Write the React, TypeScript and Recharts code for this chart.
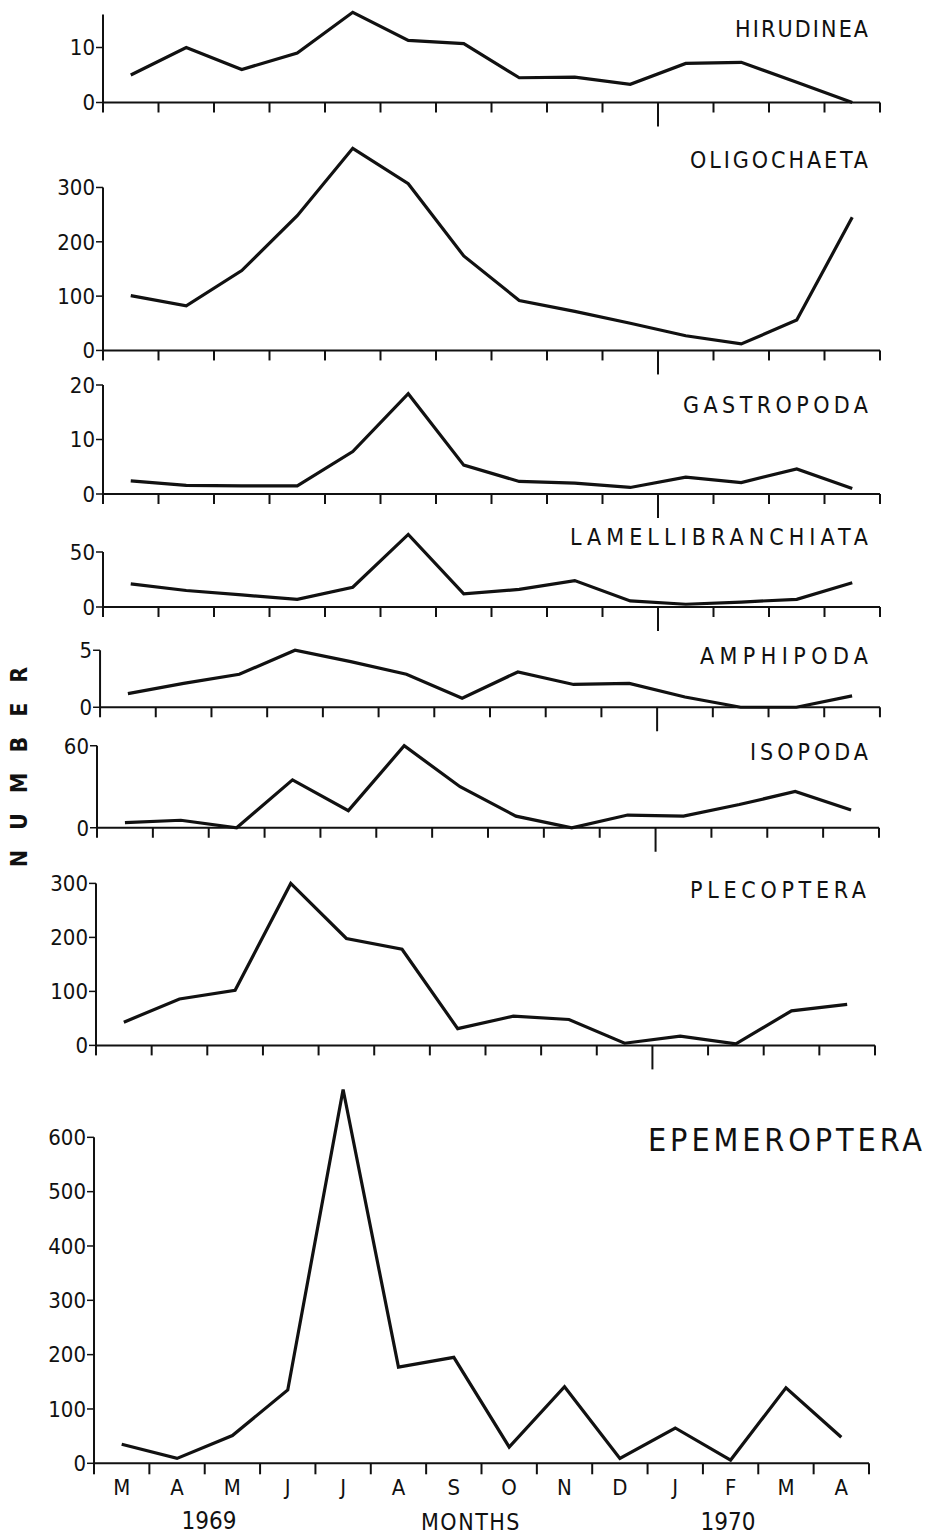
import React from 'react';
import { LineChart, Line, XAxis, YAxis, ReferenceLine } from 'recharts';

const FONT = '"Liberation Sans Narrow", "DejaVu Sans Condensed", "DejaVu Sans", sans-serif';
const INK = '#111';

// Categories
const MONTHS = ['M', 'A', 'M', 'J', 'J', 'A', 'S', 'O', 'N', 'D', 'J', 'F', 'M', 'A'];
const YEAR_LABELS = ['1969', 'MONTHS', '1970'];

// Series values (numbers per month, Mar 1969 – Apr 1970)
const HIRUDINEA = [5, 10, 6, 9, 16.4, 11.3, 10.7, 4.5, 4.6, 3.3, 7.1, 7.3, 3.7, 0];
const OLIGOCHAETA = [101, 82, 147, 248, 372, 307, 174, 92, 72, 50, 27, 12, 56, 245];
const GASTROPODA = [2.4, 1.6, 1.5, 1.5, 7.8, 18.4, 5.3, 2.3, 2.0, 1.2, 3.1, 2.1, 4.6, 1.0];
const LAMELLIBRANCHIATA = [21, 15, 11, 7, 18, 66, 12, 16, 24, 5.5, 2.5, 4.5, 7, 22];
const AMPHIPODA = [1.2, 2.1, 2.9, 5.0, 4.0, 2.9, 0.8, 3.1, 2.0, 2.1, 0.9, 0, 0, 1.0];
const ISOPODA = [3.7, 5.5, 0, 35, 12.5, 60, 30, 8.5, 0, 9.3, 8.5, 17, 26.5, 13];
const PLECOPTERA = [43, 86, 102, 300, 198, 178, 31, 54, 48, 4, 17, 3, 64, 76];
const EPEMEROPTERA = [35, 9, 51, 135, 688, 177, 195, 30, 141, 9, 65, 6, 139, 48];

// Tick labels
const TICKS_HIRUDINEA = [0, 10];
const TICKS_OLIGOCHAETA = [0, 100, 200, 300];
const TICKS_GASTROPODA = [0, 10, 20];
const TICKS_LAMELLIBRANCHIATA = [0, 50];
const TICKS_AMPHIPODA = [0, 5];
const TICKS_ISOPODA = [0, 60];
const TICKS_PLECOPTERA = [0, 100, 200, 300];
const TICKS_EPEMEROPTERA = [0, 100, 200, 300, 400, 500, 600];

// Layout of each panel (pixels / domain tops), kept apart from the data
const PANELS = [
  { title: 'HIRUDINEA', data: HIRUDINEA, ticks: TICKS_HIRUDINEA, axisTop: 16, domTop: 17, zeroY: 102, scale: 5.5, left: 103, right: 880, tx1: 735, tx2: 868, ty: 37, tsize: 23 },
  { title: 'OLIGOCHAETA', data: OLIGOCHAETA, ticks: TICKS_OLIGOCHAETA, axisTop: 300, domTop: 380, zeroY: 350, scale: 0.5433, left: 103, right: 880, tx1: 690, tx2: 868, ty: 168, tsize: 23 },
  { title: 'GASTROPODA', data: GASTROPODA, ticks: TICKS_GASTROPODA, axisTop: 20, domTop: 20, zeroY: 494, scale: 5.45, left: 103, right: 880, tx1: 683, tx2: 868, ty: 413, tsize: 23 },
  { title: 'LAMELLIBRANCHIATA', data: LAMELLIBRANCHIATA, ticks: TICKS_LAMELLIBRANCHIATA, axisTop: 50, domTop: 70, zeroY: 607, scale: 1.1, left: 103, right: 880, tx1: 570, tx2: 868, ty: 545, tsize: 23 },
  { title: 'AMPHIPODA', data: AMPHIPODA, ticks: TICKS_AMPHIPODA, axisTop: 5, domTop: 5.2, zeroY: 707, scale: 11.4, left: 100, right: 880, tx1: 700, tx2: 868, ty: 664, tsize: 23 },
  { title: 'ISOPODA', data: ISOPODA, ticks: TICKS_ISOPODA, axisTop: 60, domTop: 62, zeroY: 828, scale: 1.367, left: 97, right: 879, tx1: 750, tx2: 868, ty: 760, tsize: 23 },
  { title: 'PLECOPTERA', data: PLECOPTERA, ticks: TICKS_PLECOPTERA, axisTop: 300, domTop: 310, zeroY: 1045, scale: 0.54, left: 96, right: 875, tx1: 690, tx2: 866, ty: 898, tsize: 23 },
  { title: 'EPEMEROPTERA', data: EPEMEROPTERA, ticks: TICKS_EPEMEROPTERA, axisTop: 600, domTop: 700, zeroY: 1463, scale: 0.5433, left: 94, right: 869, tx1: 648, tx2: 922, ty: 1151, tsize: 32 },
];

function MonthTick(props: any) {
  const { x, y, payload, bottom } = props;
  const v = payload.value;
  if (Number.isInteger(v)) {
    const len = !bottom && v === 10 ? 24 : bottom ? 11 : 10;
    return <line x1={x} x2={x} y1={y} y2={y + len} stroke={INK} strokeWidth={2} />;
  }
  return (
    <text x={x} y={y + 32} textAnchor="middle" fontSize={22} fontFamily={FONT} fill={INK}>
      {MONTHS[Math.floor(v)]}
    </text>
  );
}

function Panel({ p, bottom }: { p: any; bottom: boolean }) {
  const mt = 12;
  const xh = bottom ? 40 : 30;
  const plotH = p.domTop * p.scale;
  const chartTop = p.zeroY - plotH - mt;
  const height = mt + plotH + xh;
  const mr = 40;
  const rows = MONTHS.map((m, i) => ({ x: i + 0.5, month: m, v: p.data[i] }));
  const ticks = bottom
    ? Array.from({ length: 29 }, (_, k) => k / 2)
    : Array.from({ length: 15 }, (_, k) => k);
  return (
    <div style={{ position: 'absolute', left: 0, top: chartTop }}>
      <LineChart width={p.right + mr} height={height} data={rows} margin={{ top: mt, right: mr, bottom: 0, left: 0 }}>
        <XAxis
          type="number"
          dataKey="x"
          domain={[0, 14]}
          ticks={ticks}
          interval={0}
          height={xh}
          tickSize={0}
          tickMargin={0}
          tickLine={false}
          axisLine={{ stroke: INK, strokeWidth: 2 }}
          tick={<MonthTick bottom={bottom} />}
        />
        <YAxis
          type="number"
          domain={[0, p.domTop]}
          ticks={p.ticks}
          interval={0}
          width={p.left}
          axisLine={false}
          tickSize={7}
          tickMargin={1}
          tickLine={{ stroke: INK, strokeWidth: 1.5 }}
          tick={{ fill: INK, fontSize: 22, fontFamily: FONT }}
        />
        <ReferenceLine segment={[{ x: 0, y: 0 }, { x: 0, y: p.axisTop }]} stroke={INK} strokeWidth={2} />
        <Line dataKey="v" type="linear" stroke={INK} strokeWidth={3.2} dot={false} isAnimationActive={false} />
      </LineChart>
    </div>
  );
}

export default function App() {
  return (
    <div style={{ position: 'absolute', left: 0, top: 0, width: 928, height: 1537, background: '#fff', overflow: 'hidden' }}>
      {PANELS.map((p, i) => (
        <Panel key={p.title} p={p} bottom={i === PANELS.length - 1} />
      ))}
      <svg width={928} height={1537} style={{ position: 'absolute', left: 0, top: 0, pointerEvents: 'none' }}>
        {PANELS.map((p) => (
          <text
            key={p.title}
            x={p.tx1}
            y={p.ty}
            fontSize={p.tsize}
            fontFamily={FONT}
            fill={INK}
            textLength={p.tx2 - p.tx1}
            lengthAdjust="spacing"
          >
            {p.title}
          </text>
        ))}
        <text
          x={0}
          y={0}
          transform="translate(27, 757) rotate(-90)"
          textAnchor="middle"
          fontSize={23}
          fontWeight="bold"
          fontFamily={FONT}
          fill={INK}
          letterSpacing={20}
        >
          NUMBER
        </text>
        <text x={209} y={1529} textAnchor="middle" fontSize={24} fontFamily={FONT} fill={INK}>{YEAR_LABELS[0]}</text>
        <text x={471} y={1530} textAnchor="middle" fontSize={23} fontFamily={FONT} fill={INK} letterSpacing={1.5}>{YEAR_LABELS[1]}</text>
        <text x={728} y={1530} textAnchor="middle" fontSize={24} fontFamily={FONT} fill={INK}>{YEAR_LABELS[2]}</text>
      </svg>
    </div>
  );
}
